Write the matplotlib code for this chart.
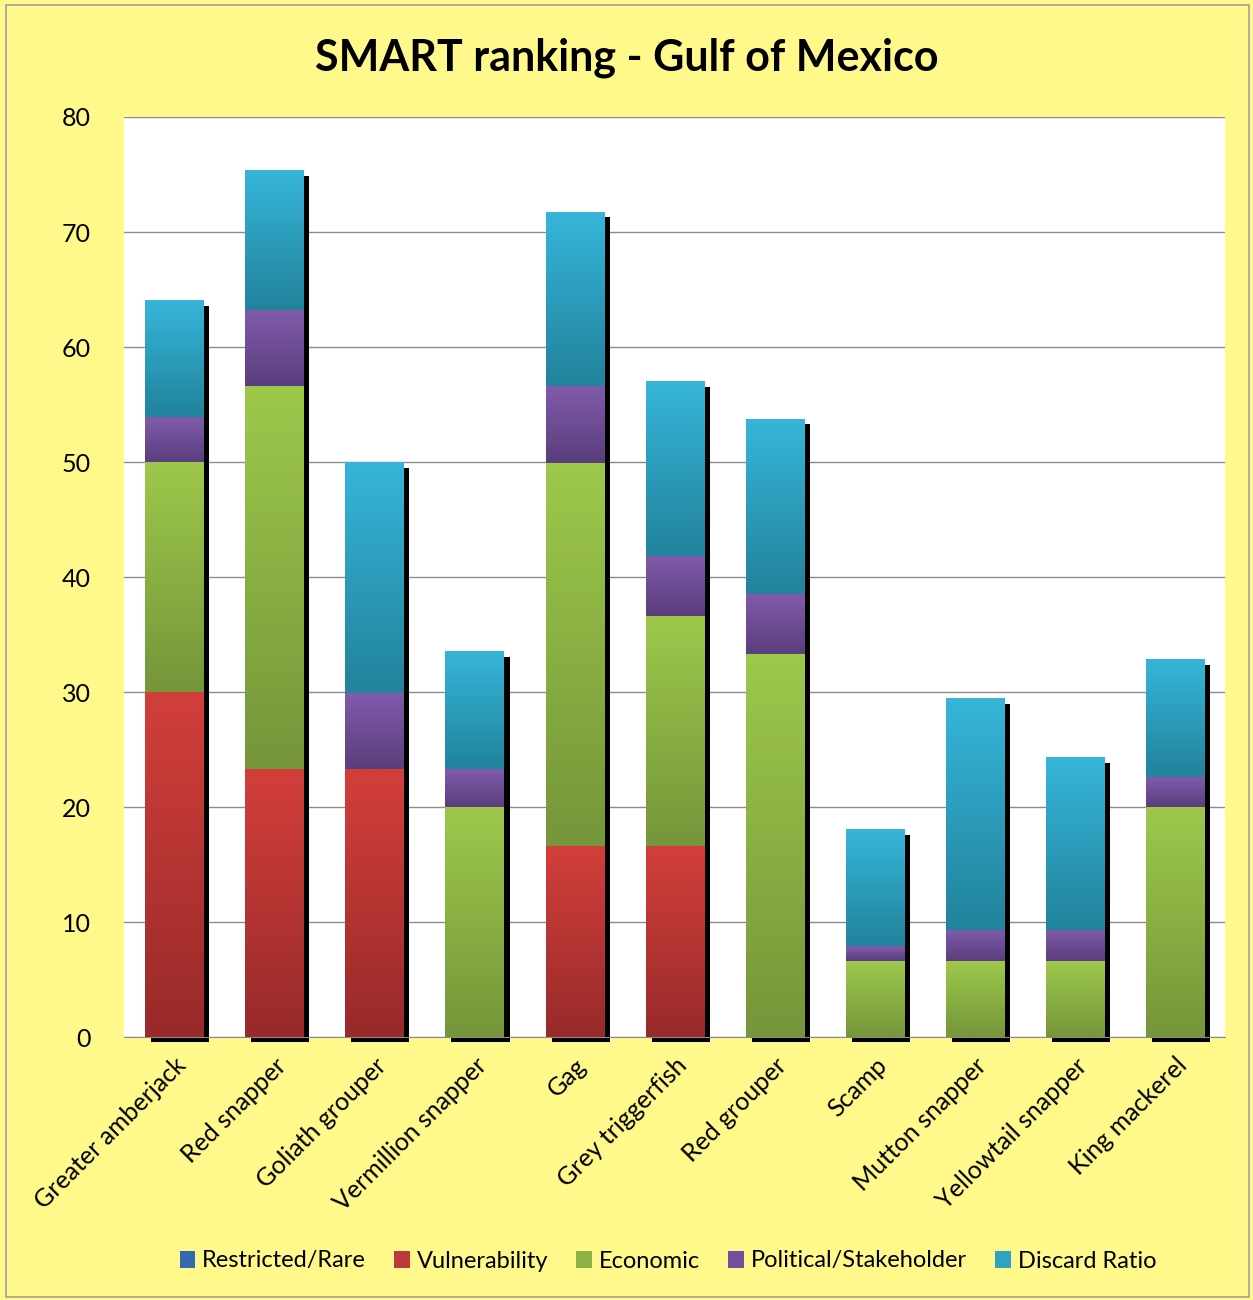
import numpy as np
import matplotlib
matplotlib.use("Agg")
import matplotlib.pyplot as plt
import matplotlib.transforms as mtransforms
from matplotlib.patches import Patch, Rectangle

plt.rcParams['font.family'] = ['Lato', 'DejaVu Sans']

# --- data ---
species = ["Greater amberjack", "Red snapper", "Goliath grouper", "Vermillion snapper",
           "Gag", "Grey triggerfish", "Red grouper", "Scamp", "Mutton snapper",
           "Yellowtail snapper", "King mackerel"]
restricted = [0, 0, 0, 0, 0, 0, 0, 0, 0, 0, 0]
vulnerability = [30, 23.3, 23.3, 0, 16.6, 16.6, 0, 0, 0, 0, 0]
economic = [20, 33.3, 0, 20, 33.3, 20, 33.3, 6.6, 6.6, 6.6, 20]
political = [3.9, 6.6, 6.6, 3.3, 6.7, 5.2, 5.2, 1.3, 2.7, 2.7, 2.6]
discard = [10.1, 12.1, 20, 10.2, 15.1, 15.2, 15.2, 10.1, 20.1, 15, 10.2]

series_names = ["Restricted/Rare", "Vulnerability", "Economic", "Political/Stakeholder", "Discard Ratio"]
series_vals = [restricted, vulnerability, economic, political, discard]
# (top colour, bottom colour) for the vertical gradient
grad = [("#3F7BC8", "#2A5592"),
        ("#D23F3B", "#982A2A"),
        ("#9DC84B", "#75963A"),
        ("#805BAB", "#5A3E7D"),
        ("#36B5D9", "#22839C")]
legend_cols = ["#3468B0", "#C0393A", "#8DB244", "#7050A0", "#2EA3C4"]

bg = "#FFF98B"
W = 0.58

fig = plt.figure(figsize=(12.53, 13.0), dpi=100, facecolor=bg)
ax = fig.add_axes([0.099, 0.2023, 0.879, 0.7077])
ax.set_facecolor("white")

x = np.arange(len(species))
totals = np.sum(series_vals, axis=0)

# black drop shadow behind each stack
shadow_tr = mtransforms.offset_copy(ax.transData, fig=fig, x=6, y=-5, units='dots')
ax.bar(x, totals, W, color="black", transform=shadow_tr, zorder=2, clip_on=False)

bottom = np.zeros(len(species))
for vals, (ctop, cbot) in zip(series_vals, grad):
    vals = np.array(vals, dtype=float)
    c1 = np.array(matplotlib.colors.to_rgb(ctop))
    c2 = np.array(matplotlib.colors.to_rgb(cbot))
    t = np.linspace(0, 1, 64)[:, None]
    img = (c1 * (1 - t) + c2 * t)[:, None, :]
    for i in range(len(species)):
        if vals[i] <= 0:
            continue
        ax.imshow(img, extent=(x[i] - W / 2, x[i] + W / 2, bottom[i], bottom[i] + vals[i]),
                  origin='upper', aspect='auto', interpolation='bilinear', zorder=3)
    bottom += vals

ax.set_xlim(-0.5, len(species) - 0.5)
ax.set_ylim(0, 80)
ax.set_yticks(range(0, 81, 10))
ax.yaxis.grid(True, color="#8C8C8C", linewidth=1)
ax.set_axisbelow(True)
for s in ["top", "right", "left"]:
    ax.spines[s].set_visible(False)
ax.spines["bottom"].set_color("#8C8C8C")
ax.tick_params(axis='both', length=0, labelsize=18, colors="black")
ax.tick_params(axis='y', pad=24)
ax.set_xticks(x)
ax.set_xticklabels(species, rotation=45, ha='right', va='top', rotation_mode='anchor')
ax.tick_params(axis='x', pad=12)

fig.text(0.5, 1 - 58 / 1300, "SMART ranking - Gulf of Mexico", ha='center', va='center',
         fontsize=31, fontweight='bold')

handles = [Patch(facecolor=c, edgecolor='none') for c in legend_cols]
fig.legend(handles, series_names, loc='center', bbox_to_anchor=(0.533, 1 - 1261 / 1300),
           ncol=5, frameon=False, fontsize=17, handlelength=0.65, handleheight=0.7,
           handletextpad=0.3, columnspacing=1.2)

fig.patches.append(Rectangle((0.005, 0.002), 0.992, 0.994, transform=fig.transFigure,
                             fill=False, edgecolor="#A0A0A0", linewidth=1.2))

fig.savefig("out.png", dpi=100, facecolor=bg)
